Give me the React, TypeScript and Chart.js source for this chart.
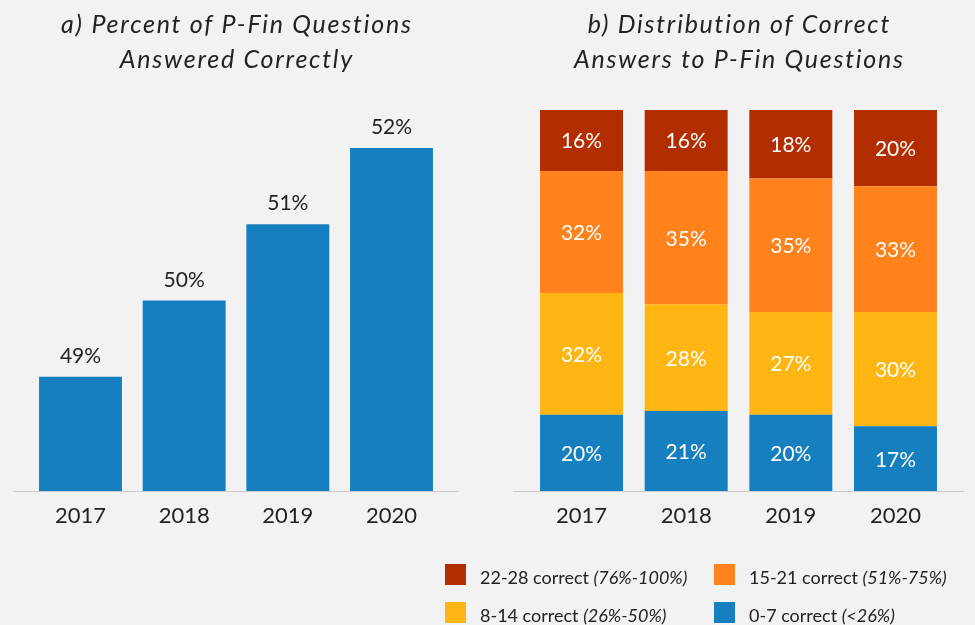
import React, { useEffect, useRef } from "react";
import { Chart, registerables } from "chart.js";

Chart.register(...registerables);

const years = ["2017", "2018", "2019", "2020"];
const pctCorrect = [49, 50, 51, 52];

const dist0to7 = [20, 21, 20, 17];
const dist8to14 = [32, 28, 27, 30];
const dist15to21 = [32, 35, 35, 33];
const dist22to28 = [16, 16, 18, 20];

const titleA = ["a) Percent of P-Fin Questions", "Answered Correctly"];
const titleB = ["b) Distribution of Correct", "Answers to P-Fin Questions"];

const legendNames = ["22-28 correct", "15-21 correct", "8-14 correct", "0-7 correct"];
const legendRanges = ["(76%-100%)", "(51%-75%)", "(26%-50%)", "(<26%)"];

const BLUE = "#167fc0";
const YELLOW = "#ffb612";
const ORANGE = "#ff821c";
const RED = "#b22d00";
const TEXT = "#222222";
const BG = "#f2f2f2";
const FONT = "Lato, 'Open Sans', sans-serif";

const H = 625;
const LEFT_W = 470;
const RIGHT_X = 440;
const RIGHT_W = 535;

const axisLinePlugin = {
  id: "axisLine",
  beforeDatasetsDraw(chart: any) {
    const { ctx, chartArea } = chart;
    ctx.save();
    ctx.strokeStyle = "#cccccc";
    ctx.lineWidth = 1.2;
    ctx.beginPath();
    ctx.moveTo(chartArea.left - 16, chartArea.bottom + 0.5);
    ctx.lineTo(chartArea.right + 16, chartArea.bottom + 0.5);
    ctx.stroke();
    ctx.restore();
  },
};

const spacedTitlePlugin = {
  id: "spacedTitle",
  afterDraw(chart: any, _args: any, opts: any) {
    const { ctx, chartArea } = chart;
    const lines: string[] = opts.text || [];
    const spacing = 1.75;
    ctx.save();
    ctx.font = `italic 25px ${FONT}`;
    (ctx as any).letterSpacing = `${spacing}px`;
    ctx.fillStyle = TEXT;
    ctx.textAlign = "center";
    ctx.textBaseline = "alphabetic";
    const cx = (chartArea.left + chartArea.right) / 2 + spacing / 2;
    const baselines = [33, 68];
    lines.forEach((line, i) => ctx.fillText(line, cx, baselines[i]));
    ctx.restore();
  },
};

const topLabelPlugin = {
  id: "topLabels",
  afterDatasetsDraw(chart: any) {
    const { ctx } = chart;
    ctx.save();
    ctx.font = `21px ${FONT}`;
    ctx.fillStyle = TEXT;
    ctx.textAlign = "center";
    ctx.textBaseline = "alphabetic";
    const meta = chart.getDatasetMeta(0);
    const data = chart.data.datasets[0].data;
    meta.data.forEach((el: any, i: number) => {
      ctx.fillText(`${data[i]}%`, el.x, el.y - 14);
    });
    ctx.restore();
  },
};

const innerLabelPlugin = {
  id: "innerLabels",
  afterDatasetsDraw(chart: any) {
    const { ctx } = chart;
    ctx.save();
    ctx.font = `21px ${FONT}`;
    ctx.fillStyle = "#ffffff";
    ctx.textAlign = "center";
    ctx.textBaseline = "alphabetic";
    chart.data.datasets.forEach((ds: any, di: number) => {
      const meta = chart.getDatasetMeta(di);
      meta.data.forEach((el: any, i: number) => {
        const mid = (el.y + el.base) / 2;
        ctx.fillText(`${ds.data[i]}%`, el.x, mid + 8);
      });
    });
    ctx.restore();
  },
};

const legendPlugin = {
  id: "customLegend",
  afterDraw(chart: any) {
    const { ctx } = chart;
    const colors = [RED, ORANGE, YELLOW, BLUE];
    const colX = [5, 274];
    const rowY = [564, 602];
    ctx.save();
    ctx.textAlign = "left";
    ctx.textBaseline = "alphabetic";
    legendNames.forEach((name, i) => {
      const x = colX[i % 2];
      const y = rowY[Math.floor(i / 2)];
      ctx.fillStyle = colors[i];
      ctx.fillRect(x, y, 21, 21);
      ctx.fillStyle = TEXT;
      ctx.font = `18px ${FONT}`;
      const t1 = name + " ";
      ctx.fillText(t1, x + 35, y + 19.5);
      const w = ctx.measureText(t1).width;
      ctx.font = `italic 18px ${FONT}`;
      ctx.fillText(legendRanges[i], x + 35 + w, y + 19.5);
    });
    ctx.restore();
  },
};

function xScale(stacked: boolean) {
  return {
    type: "category" as const,
    stacked,
    grid: { display: false, drawTicks: false },
    border: { display: false },
    ticks: { font: { family: FONT, size: 22 }, color: TEXT, padding: 12 },
    afterFit(scale: any) {
      scale.height = 134;
    },
  };
}

export default function App() {
  const leftRef = useRef<HTMLCanvasElement>(null);
  const rightRef = useRef<HTMLCanvasElement>(null);

  useEffect(() => {
    const left = new Chart(leftRef.current!, {
      type: "bar",
      data: {
        labels: years,
        datasets: [
          {
            data: pctCorrect,
            backgroundColor: BLUE,
            borderWidth: 0,
            barPercentage: 0.8,
            categoryPercentage: 1,
          },
        ],
      },
      options: {
        animation: false,
        responsive: false,
        maintainAspectRatio: false,
        layout: { padding: { left: 28.67, right: LEFT_W - 443.33, top: 110, bottom: 0 } },
        plugins: {
          legend: { display: false },
          tooltip: { enabled: false },
          title: { display: false },
          spacedTitle: { text: titleA },
        } as any,
        scales: {
          x: xScale(false),
          y: { display: false, min: 47.5, max: 52.5 },
        },
      },
      plugins: [axisLinePlugin, topLabelPlugin, spacedTitlePlugin],
    });

    const right = new Chart(rightRef.current!, {
      type: "bar",
      data: {
        labels: years,
        datasets: [
          { label: "0-7 correct", data: dist0to7, backgroundColor: BLUE },
          { label: "8-14 correct", data: dist8to14, backgroundColor: YELLOW },
          { label: "15-21 correct", data: dist15to21, backgroundColor: ORANGE },
          { label: "22-28 correct", data: dist22to28, backgroundColor: RED },
        ].map((d) => ({ ...d, borderWidth: 0, barPercentage: 0.793, categoryPercentage: 1 })),
      },
      options: {
        animation: false,
        responsive: false,
        maintainAspectRatio: false,
        layout: { padding: { left: 529.2 - RIGHT_X, right: RIGHT_X + RIGHT_W - 947.8, top: 110, bottom: 0 } },
        plugins: {
          legend: { display: false },
          tooltip: { enabled: false },
          title: { display: false },
          spacedTitle: { text: titleB },
        } as any,
        scales: {
          x: xScale(true),
          y: { display: false, stacked: true, min: 0, max: 100 },
        },
      },
      plugins: [axisLinePlugin, innerLabelPlugin, legendPlugin, spacedTitlePlugin],
    });

    return () => {
      left.destroy();
      right.destroy();
    };
  }, []);

  return (
    <div style={{ position: "fixed", left: 0, top: 0, width: 975, height: H, background: BG, overflow: "hidden" }}>
      <canvas
        ref={leftRef}
        width={LEFT_W}
        height={H}
        style={{ position: "absolute", left: 0, top: 0, width: LEFT_W, height: H }}
      />
      <canvas
        ref={rightRef}
        width={RIGHT_W}
        height={H}
        style={{ position: "absolute", left: RIGHT_X, top: 0, width: RIGHT_W, height: H }}
      />
    </div>
  );
}
